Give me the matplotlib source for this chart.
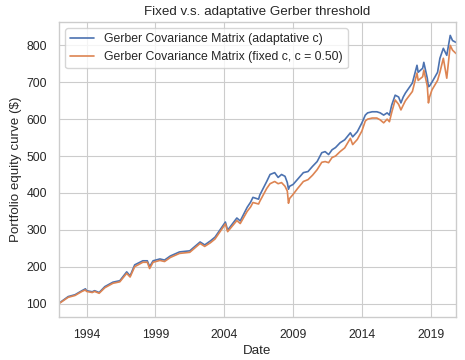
import matplotlib
matplotlib.use("Agg")
import matplotlib.pyplot as plt
import seaborn as sns
import pandas as pd

dates = ["1992-01", "1992-09", "1993-03", "1993-09", "1993-12", "1994-01", "1994-06", "1994-08",
         "1994-12", "1995-05", "1995-12", "1996-06", "1996-12", "1997-03", "1997-07", "1998-02",
         "1998-06", "1998-08", "1998-11", "1999-05", "1999-09", "2000-02", "2000-10", "2001-07",
         "2002-04", "2002-08", "2003-01", "2003-05", "2004-02", "2004-04", "2004-12", "2005-03",
         "2005-09", "2005-12", "2006-02", "2006-07", "2006-08", "2007-02", "2007-05", "2007-09",
         "2007-12", "2008-03", "2008-06", "2008-08", "2008-09", "2008-10", "2009-01", "2009-05",
         "2009-10", "2010-02", "2010-06", "2010-10", "2011-02", "2011-05", "2011-08", "2011-11",
         "2012-02", "2012-06", "2012-10", "2013-03", "2013-05", "2013-09", "2014-01", "2014-04",
         "2014-06", "2014-10", "2015-02", "2015-05", "2015-08", "2015-11", "2016-01", "2016-03",
         "2016-06", "2016-09", "2016-11", "2017-01", "2017-03", "2017-09", "2018-01", "2018-02",
         "2018-06", "2018-07", "2018-10", "2018-11", "2018-12", "2019-02", "2019-07", "2019-09",
         "2019-12", "2020-03", "2020-06", "2020-08", "2020-11"]

adaptive = [101, 119, 124, 135, 140, 135, 132, 135,
            130, 146, 158, 162, 186, 175, 205, 216,
            216, 200, 216, 221, 218, 229, 240, 243,
            267, 259, 270, 280, 321, 299, 332, 324,
            361, 375, 388, 383, 394, 431, 450, 455,
            442, 450, 445, 428, 410, 418, 423, 437,
            455, 458, 472, 485, 509, 512, 504, 517,
            523, 536, 544, 563, 552, 566, 590, 611,
            617, 620, 620, 617, 611, 617, 611, 638,
            665, 660, 644, 660, 671, 698, 746, 727,
            738, 754, 711, 688, 690, 700, 727, 765,
            792, 773, 827, 813, 808]

fixed = [100, 117, 122, 133, 137, 133, 130, 133,
         128, 143, 155, 159, 182, 172, 200, 212,
         212, 195, 212, 217, 214, 225, 236, 239,
         263, 255, 265, 275, 316, 295, 325, 317,
         350, 362, 374, 370, 377, 412, 425, 431,
         425, 428, 418, 405, 372, 385, 396, 412,
         431, 436, 448, 463, 483, 485, 482, 496,
         500, 512, 522, 548, 531, 545, 568, 595,
         600, 603, 603, 598, 590, 600, 593, 618,
         652, 640, 625, 638, 650, 675, 725, 705,
         715, 733, 690, 644, 660, 679, 705, 727,
         765, 711, 800, 787, 778]

tick_years = [1994, 1999, 2004, 2009, 2014, 2019]

sns.set_theme(style="whitegrid")
plt.rcParams['font.family'] = ['Liberation Sans', 'DejaVu Sans']

s = 0.8
fig, ax = plt.subplots(figsize=(4.65, 3.6), dpi=100)
fig.subplots_adjust(left=59/465, right=456/465, top=1-22/360, bottom=1-317/360)

x = pd.to_datetime(dates)
ax.plot(x, adaptive, color="#4C72B0", lw=1.5*s, label="Gerber Covariance Matrix (adaptative c)")
ax.plot(x, fixed, color="#DD8452", lw=1.5*s, label="Gerber Covariance Matrix (fixed c, c = 0.50)")

ax.set_xlim(x[0], x[-1])
ax.set_xticks(pd.to_datetime([f"{y}-01-01" for y in tick_years]))
ax.set_xticklabels([str(y) for y in tick_years])
ax.set_yticks(range(100, 900, 100))

ax.tick_params(labelsize=11*s, pad=3.5*s)
ax.grid(True, lw=1*s, color="0.8")
for sp in ax.spines.values():
    sp.set_linewidth(1.25*s)
    sp.set_color("0.8")

ax.set_title("Fixed v.s. adaptative Gerber threshold", fontsize=12*s, pad=6*s)
ax.set_xlabel("Date", fontsize=12*s, labelpad=3*s)
ax.set_ylabel(r"Portfolio equity curve (\$)", fontsize=12*s, labelpad=4*s)
ax.legend(loc="upper left", fontsize=11*s, frameon=True)

fig.savefig("out.png", dpi=100)
